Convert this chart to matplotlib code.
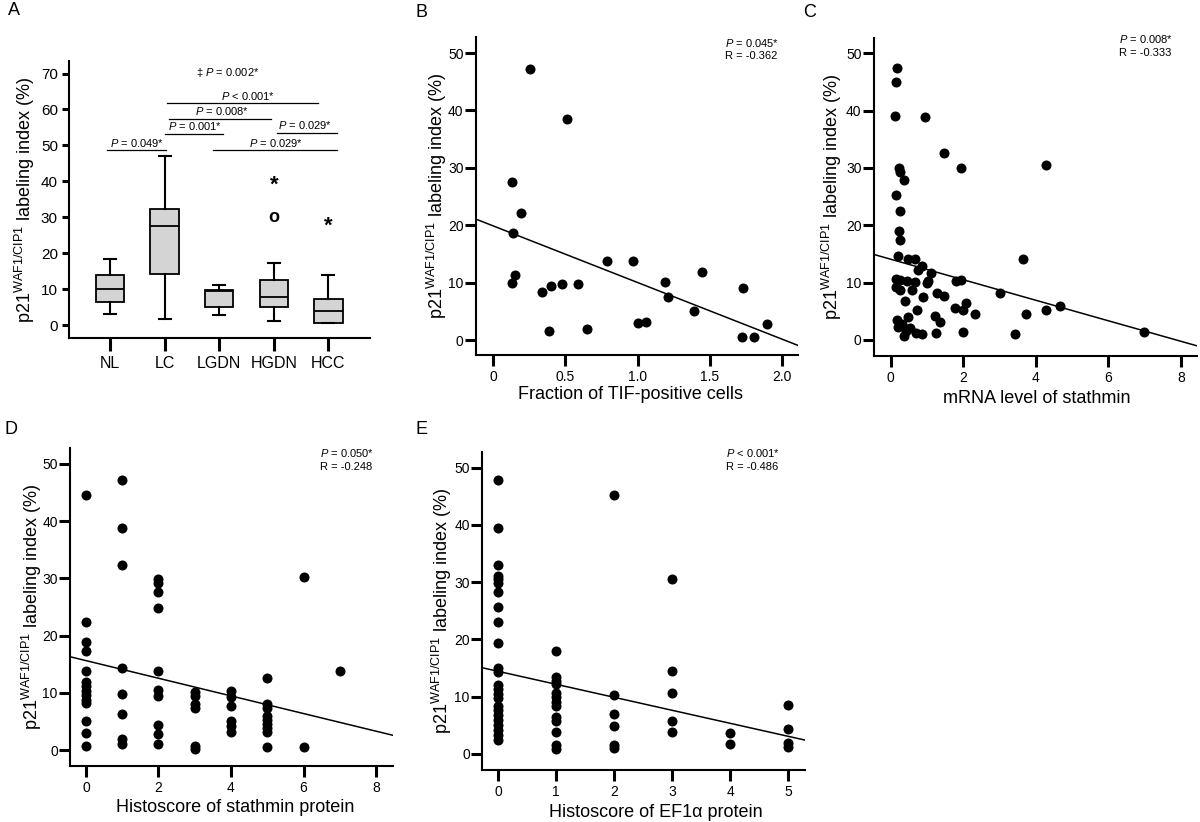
import numpy as np
import matplotlib.pyplot as plt

plt.rcParams['font.family'] = ['Liberation Sans', 'DejaVu Sans']
plt.rcParams['mathtext.fontset'] = 'custom'
plt.rcParams['mathtext.rm'] = 'Liberation Sans'
plt.rcParams['mathtext.it'] = 'Liberation Sans:italic'

YLABEL = r'p21$^{\mathrm{WAF1/CIP1}}$ labeling index (%)'

# ---- panel A: box plot data ----
groups = ['NL', 'LC', 'LGDN', 'HGDN', 'HCC']
whisker_low = [3.2, 1.7, 2.7, 1.0, 0.5]
q1 = [6.5, 14.3, 5.0, 5.0, 0.7]
median = [10.0, 27.5, 9.4, 7.8, 3.9]
q3 = [13.8, 32.3, 9.8, 12.5, 7.2]
whisker_high = [18.5, 47.0, 11.2, 17.2, 13.8]

outlier_group = [3, 3, 4]
outlier_value = [30.0, 40.5, 29.0]
outlier_symbol = ['o', '*', '*']

bracket_labels = [r'$\it{P}$ = 0.049*', r'$\it{P}$ = 0.001*', r'$\it{P}$ = 0.008*',
                  r'$\it{P}$ < 0.001*', r'$\it{P}$ = 0.029*', r'$\it{P}$ = 0.029*']
bracket_start = [-0.05, 1.0, 1.08, 1.04, 3.06, 1.88]
bracket_end = [1.02, 2.07, 2.95, 3.8, 4.16, 4.16]
bracket_height = [48.7, 53.2, 57.4, 61.8, 53.5, 48.7]
bracket_text_x = [0.49, 1.56, 2.05, 2.52, 3.57, 3.04]

# ---- panel B ----
tif_x = [0.134, 0.136, 0.134, 0.152, 0.196, 0.258, 0.335, 0.388, 0.404, 0.478,
         0.512, 0.586, 0.651, 0.785, 0.967, 1.004, 1.057, 1.193, 1.207, 1.387,
         1.443, 1.727, 1.722, 1.805, 1.895]
tif_y = [27.6, 18.6, 10.0, 11.3, 22.2, 47.2, 8.4, 1.6, 9.5, 9.7,
         38.6, 9.8, 1.9, 13.8, 13.8, 2.9, 3.1, 10.2, 7.5, 5.0,
         11.8, 9.1, 0.5, 0.5, 2.8]

# ---- panel C ----
mrna_x = [0.165, 0.157, 0.13, 0.936, 1.46, 1.94, 4.29, 0.229, 0.27, 0.375,
          0.157, 0.27, 0.229, 0.26, 0.21, 0.486, 0.678, 3.64, 0.853, 0.76,
          1.10, 1.04, 0.99, 0.136, 0.27, 0.44, 0.67, 0.15, 0.27, 0.6,
          1.80, 1.94, 1.29, 1.46, 0.88, 3.01, 0.39, 4.66, 4.27, 0.73,
          1.78, 2.07, 2.0, 2.32, 3.73, 1.22, 1.36, 0.165, 0.49, 0.3,
          0.53, 0.37, 0.71, 0.85, 1.26, 1.98, 3.42, 6.98, 0.2, 0.42]
mrna_y = [47.4, 44.9, 39.1, 38.9, 32.6, 29.9, 30.5, 30.0, 29.2, 27.9,
          25.3, 22.5, 19.0, 17.5, 14.7, 14.2, 14.2, 14.1, 12.9, 12.2,
          11.6, 10.3, 9.9, 10.7, 10.5, 10.2, 10.1, 9.3, 8.7, 8.7,
          10.2, 10.5, 8.1, 7.7, 7.5, 8.1, 6.8, 6.0, 5.3, 5.3,
          5.5, 6.4, 5.3, 4.5, 4.6, 4.2, 3.2, 3.5, 4.0, 2.7,
          2.1, 0.7, 1.2, 1.0, 1.2, 1.4, 1.0, 1.4, 2.2, 1.6]

# ---- panel D ----
stath_x = [0] * 14 + [1] * 8 + [2] * 10 + [3] * 6 + [4] * 6 + [5] * 9 + [6] * 2 + [7]
stath_y = [44.6, 22.3, 18.8, 17.3, 13.8, 11.9, 11.2, 10.3, 9.6, 8.8, 8.3, 5.1, 3.0, 0.7,
           47.2, 38.7, 32.3, 14.4, 9.8, 6.4, 1.9, 1.0,
           29.8, 29.1, 27.6, 24.9, 13.8, 10.5, 9.5, 4.4, 2.9, 1.0,
           10.2, 9.5, 8.1, 7.4, 0.7, 0.3,
           10.3, 9.3, 7.8, 5.1, 4.2, 3.2,
           12.6, 8.0, 7.3, 5.9, 5.2, 4.5, 3.9, 3.1, 0.5,
           30.2, 0.5,
           13.8]

# ---- panel E ----
ef1_x = [0] * 24 + [1] * 13 + [2] * 6 + [3] * 5 + [4] * 2 + [5] * 4
ef1_y = [47.9, 39.4, 33.0, 31.1, 30.5, 29.8, 28.3, 25.7, 23.0, 19.3, 15.1, 14.4,
         12.0, 11.3, 10.5, 9.8, 8.3, 7.7, 6.8, 5.9, 5.1, 4.2, 3.3, 2.4,
         18.0, 13.5, 12.8, 12.2, 10.7, 10.0, 9.1, 8.4, 6.5, 5.8, 3.9, 1.5, 0.9,
         45.3, 10.3, 6.9, 4.9, 1.6, 1.0,
         30.5, 14.5, 10.6, 5.8, 3.9,
         3.6, 1.7,
         8.5, 4.4, 1.9, 1.2]

# regression lines (intercept, slope) and stats text
fit_intercept = {'B': 19.9, 'C': 14.08, 'D': 15.64, 'E': 14.43}
fit_slope = {'B': -9.87, 'C': -1.79, 'D': -1.54, 'E': -2.27}
stat_p = {'B': r'$\it{P}$ = 0.045*', 'C': r'$\it{P}$ = 0.008*',
          'D': r'$\it{P}$ = 0.050*', 'E': r'$\it{P}$ < 0.001*'}
stat_r = {'B': 'R = -0.362', 'C': 'R = -0.333', 'D': 'R = -0.248', 'E': 'R = -0.486'}


def style_axes(ax, tick_len_x=8, tick_len_y=8, pad=2):
    for side in ['top', 'right']:
        ax.spines[side].set_visible(False)
    for side in ['left', 'bottom']:
        ax.spines[side].set_linewidth(1.5)
    ax.tick_params(axis='x', direction='out', length=tick_len_x, width=2.2, labelsize=10, pad=3)
    ax.tick_params(axis='y', direction='out', length=tick_len_y, width=2.2, labelsize=10, pad=pad)


def scatter_panel(ax, key, xs, ys, xlim, ylim, xticks, xticklabels, xlabel,
                  xlabel_pos, ylabel_x, stat_pos):
    ax.scatter(xs, ys, s=52, color='black', zorder=3, linewidths=0)
    xx = np.array(xlim)
    ax.plot(xx, fit_intercept[key] + fit_slope[key] * xx, color='black', lw=1.1, zorder=2)
    ax.set_xlim(xlim)
    ax.set_ylim(ylim)
    ax.set_xticks(xticks)
    ax.set_xticklabels(xticklabels)
    ax.set_yticks([0, 10, 20, 30, 40, 50])
    style_axes(ax, pad=1)
    ax.set_xlabel(xlabel, fontsize=13, va='top')
    ax.xaxis.set_label_coords(xlabel_pos[0], xlabel_pos[1])
    ax.set_ylabel(YLABEL, fontsize=13, va='center')
    ax.yaxis.set_label_coords(ylabel_x, 0.5)
    ax.text(stat_pos[0], stat_pos[1], stat_p[key], transform=ax.transAxes,
            fontsize=8, va='center', ha='left')
    ax.text(stat_pos[0], stat_pos[2], stat_r[key], transform=ax.transAxes,
            fontsize=8, va='center', ha='left')


fig = plt.figure(figsize=(12, 8.22), dpi=100)

# ---------------- A ----------------
axA = fig.add_axes([0.0575, 0.5888, 0.2508, 0.337])
stats = []
for i, g in enumerate(groups):
    stats.append({'label': g, 'whislo': whisker_low[i], 'q1': q1[i], 'med': median[i],
                  'q3': q3[i], 'whishi': whisker_high[i], 'fliers': []})
axA.bxp(stats, positions=range(len(groups)), widths=0.52, patch_artist=True,
        showfliers=False, capwidths=0.22,
        boxprops=dict(facecolor='#d4d4d4', edgecolor='black', linewidth=1.3),
        medianprops=dict(color='black', linewidth=1.3),
        whiskerprops=dict(color='black', linewidth=1.5),
        capprops=dict(color='black', linewidth=1.5))
for g, v, sym in zip(outlier_group, outlier_value, outlier_symbol):
    if sym == 'o':
        axA.text(g, v, 'o', ha='center', va='center', fontsize=13, fontweight='bold')
    else:
        axA.text(g, v - 1.5, '*', ha='center', va='center', fontsize=16, fontweight='bold')
for lab, x0, x1, h, tx in zip(bracket_labels, bracket_start, bracket_end,
                              bracket_height, bracket_text_x):
    axA.plot([x0, x1], [h, h], color='black', lw=0.9)
    axA.text(tx, h + 0.4, lab, ha='center', va='bottom', fontsize=8)
axA.text(2.15, 70.2, r'‡ $\it{P}$ = 0.002*', ha='center', va='center', fontsize=8)
axA.set_xlim(-0.75, 4.76)
axA.set_ylim(-3.6, 73.5)
axA.set_yticks(range(0, 71, 10))
style_axes(axA, tick_len_x=9, tick_len_y=5, pad=3)
axA.tick_params(axis='x', labelsize=11.5, pad=4)
axA.tick_params(axis='y', labelsize=11)
axA.set_ylabel(YLABEL, fontsize=13, va='center')
axA.yaxis.set_label_coords(-0.145, 0.5)

# ---------------- B ----------------
axB = fig.add_axes([0.3967, 0.5681, 0.2683, 0.3869])
scatter_panel(axB, 'B', tif_x, tif_y, (-0.118, 2.11), (-2.6, 52.8),
              [0, 0.5, 1.0, 1.5, 2.0], ['0', '0.5', '1.0', '1.5', '2.0'],
              'Fraction of TIF-positive cells', (0.48, -0.098), -0.12,
              (0.773, 0.981, 0.94))

# ---------------- C ----------------
axC = fig.add_axes([0.7283, 0.5669, 0.2692, 0.3872])
scatter_panel(axC, 'C', mrna_x, mrna_y, (-0.46, 8.44), (-2.8, 52.7),
              [0, 2, 4, 6, 8], ['0', '2', '4', '6', '8'],
              'mRNA level of stathmin', (0.505, -0.107), -0.13,
              (0.759, 0.996, 0.952))

# ---------------- D ----------------
axD = fig.add_axes([0.0586, 0.0685, 0.2687, 0.3869])
scatter_panel(axD, 'D', stath_x, stath_y, (-0.43, 8.46), (-2.7, 52.8),
              [0, 2, 4, 6, 8], ['0', '2', '4', '6', '8'],
              'Histoscore of stathmin protein', (0.512, -0.105), -0.12,
              (0.775, 0.983, 0.939))

# ---------------- E ----------------
axE = fig.add_axes([0.4019, 0.0633, 0.2689, 0.3865])
scatter_panel(axE, 'E', ef1_x, ef1_y, (-0.276, 5.29), (-2.8, 52.7),
              [0, 1, 2, 3, 4, 5], ['0', '1', '2', '3', '4', '5'],
              'Histoscore of EF1α protein', (0.537, -0.106), -0.125,
              (0.754, 0.998, 0.954))

# panel letters
for letter, x, y in [('A', 0.007, 0.987), ('B', 0.346, 0.985), ('C', 0.669, 0.985),
                     ('D', 0.004, 0.477), ('E', 0.346, 0.477)]:
    fig.text(x, y, letter, fontsize=13, ha='left', va='center')

fig.savefig('out.png', dpi=100)
